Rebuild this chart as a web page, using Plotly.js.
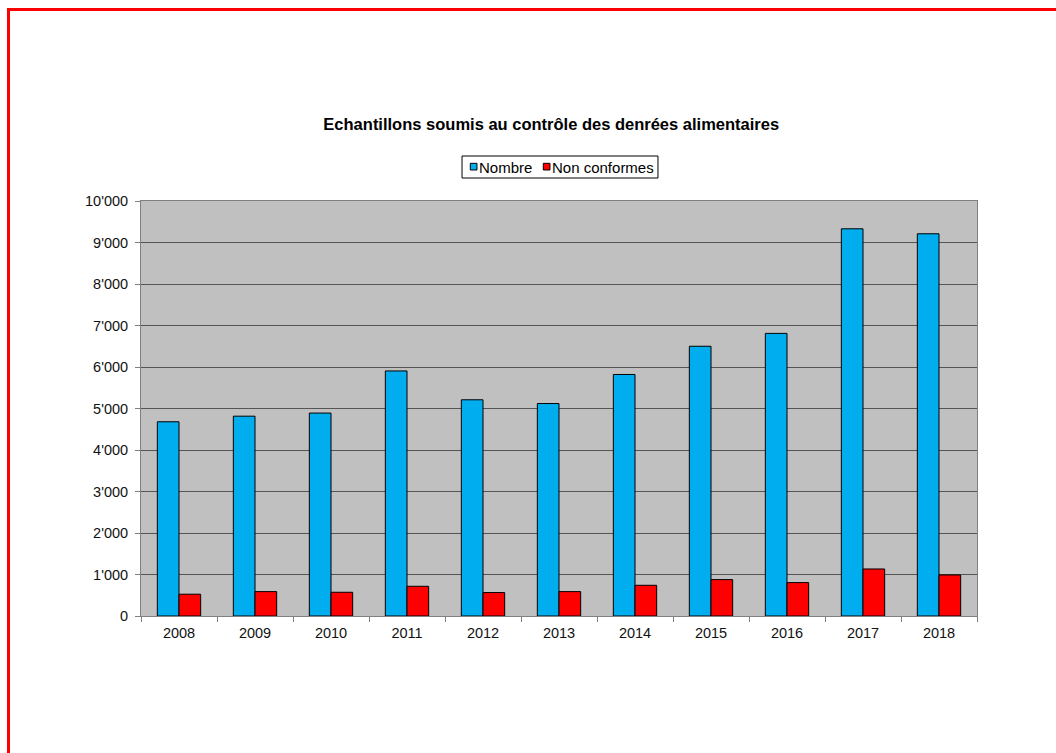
<!DOCTYPE html>
<html>
<head>
<meta charset="utf-8">
<script src="https://cdn.plot.ly/plotly-3.0.1.min.js"></script>
<style>
  html, body { margin: 0; padding: 0; background: #fff; }
  #wrap { position: relative; width: 1056px; height: 753px; overflow: hidden; }
  #frame { position: absolute; left: 7px; top: 8px; width: 1100px; height: 800px;
           border-left: 3px solid #ff0000; border-top: 3px solid #ff0000; pointer-events: none; z-index: 5; }
  #chart { position: absolute; left: 0; top: 0; width: 1056px; height: 753px; }
</style>
</head>
<body>
<div id="wrap">
  <div id="chart"></div>
  <div id="frame"></div>
</div>
<script>
const years = ['2008','2009','2010','2011','2012','2013','2014','2015','2016','2017','2018'];
const nombre = [4680, 4815, 4890, 5905, 5210, 5120, 5820, 6500, 6810, 9330, 9210];
const nonConformes = [525, 588, 572, 716, 565, 588, 740, 877, 805, 1133, 989];
const yTicks = [0,1000,2000,3000,4000,5000,6000,7000,8000,9000,10000];
const seriesNames = ['Nombre', 'Non conformes'];
const seriesColors = ['#00AEEF', '#FF0000'];

const traces = [
  { type: 'bar', name: seriesNames[0], x: years, y: nombre, showlegend: false,
    marker: { color: seriesColors[0], line: { color: '#000', width: 1 } } },
  { type: 'bar', name: seriesNames[1], x: years, y: nonConformes, showlegend: false,
    marker: { color: seriesColors[1], line: { color: '#000', width: 1 } } }
];

// compact legend (small squares right next to text, as in the original)
const legendShapes = [
  { type: 'rect', xref: 'paper', yref: 'paper', x0: 0.384, x1: 0.6184, y0: 1.0554, y1: 1.1084,
    line: { color: '#000', width: 1 }, fillcolor: '#fff', layer: 'above' },
  { type: 'rect', xref: 'paper', yref: 'paper', x0: 0.3939, x1: 0.4019, y0: 1.0747, y1: 1.0908,
    line: { color: '#000', width: 1 }, fillcolor: seriesColors[0], layer: 'above' },
  { type: 'rect', xref: 'paper', yref: 'paper', x0: 0.4812, x1: 0.4892, y0: 1.0747, y1: 1.0908,
    line: { color: '#000', width: 1 }, fillcolor: seriesColors[1], layer: 'above' }
];
const legendTexts = [
  { xref: 'paper', yref: 'paper', x: 0.4031, y: 1.0819, xanchor: 'left', yanchor: 'middle',
    text: seriesNames[0], showarrow: false, borderpad: 0, font: { size: 15, color: '#000' } },
  { xref: 'paper', yref: 'paper', x: 0.4904, y: 1.0819, xanchor: 'left', yanchor: 'middle',
    text: seriesNames[1], showarrow: false, borderpad: 0, font: { size: 15, color: '#000' } }
];

const layout = {
  width: 1056, height: 753,
  margin: { l: 141, r: 79, t: 201, b: 137 },
  paper_bgcolor: '#ffffff',
  plot_bgcolor: '#C0C0C0',
  separators: ".'",
  font: { family: 'Liberation Sans, Arial, sans-serif', size: 14.5, color: '#111' },
  title: { text: '<b>Echantillons soumis au contrôle des denrées alimentaires</b>',
           font: { size: 16.5, color: '#000' }, x: 0.522, xanchor: 'center', y: 0.835, yanchor: 'middle' },
  barmode: 'group', bargap: 0.43, bargroupgap: 0,
  showlegend: false,
  shapes: legendShapes,
  annotations: legendTexts,
  xaxis: { type: 'category', showline: true, linecolor: '#808080', mirror: true,
           ticks: 'outside', ticklen: 5, tickcolor: '#808080', tickson: 'boundaries',
           ticklabelstandoff: 4,
           tickfont: { size: 14.5, color: '#111' }, showgrid: false },
  yaxis: { range: [0, 10000], tickvals: yTicks, tickformat: ',', showline: true, linecolor: '#808080',
           mirror: true, ticks: 'outside', ticklen: 5, tickcolor: '#808080',
           ticklabelstandoff: 4,
           gridcolor: '#555555', gridwidth: 1, zeroline: false,
           tickfont: { size: 14.5, color: '#111' } }
};

Plotly.newPlot('chart', traces, layout, { displayModeBar: false, staticPlot: true });
</script>
</body>
</html>
